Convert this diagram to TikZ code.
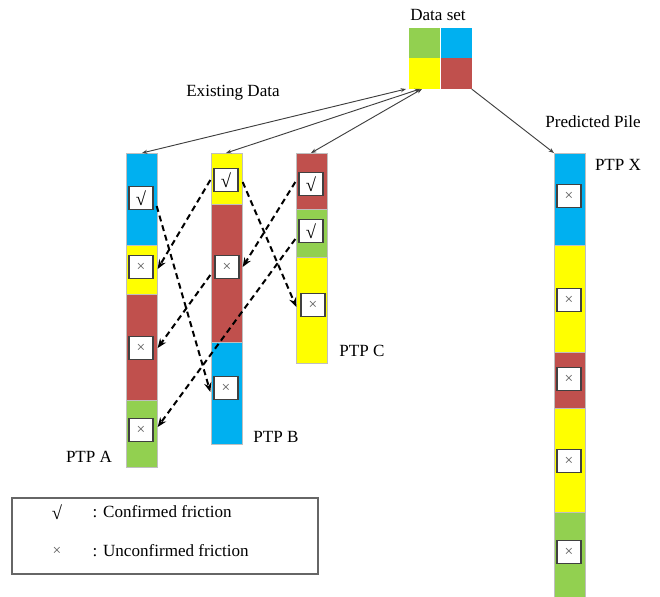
\documentclass[tikz,border=0pt]{standalone}
\usepackage{fontspec}
\setmainfont{Liberation Serif}
\usetikzlibrary{calc,arrows.meta}
\definecolor{pileblue}{RGB}{0,176,240}
\definecolor{pileyellow}{RGB}{255,255,0}
\definecolor{pilered}{RGB}{192,80,77}
\definecolor{pilegreen}{RGB}{146,208,80}

\newcommand\confmark{\fontsize{14}{14}\selectfont √}
\newcommand\unconfmark{\textcolor{black!65}{\fontsize{11.5}{11.5}\selectfont ×}}

\tikzset{
  seg/.style={draw=black!25, line width=0.4pt},
  testbox/.style={draw=black!75, fill=white, line width=1pt,
    minimum width=18pt, minimum height=17pt, inner sep=0pt},
  cell/.style={minimum width=23.25pt, minimum height=23pt, inner sep=0pt},
  link/.style={draw=black!75, line width=0.7pt,
    {Stealth[length=4pt,width=3pt]}-{Stealth[length=4pt,width=3pt]}},
  transfer/.style={line width=1.5pt, dash pattern=on 4.5pt off 3pt,
    -{Stealth[length=7pt,width=5.5pt]}},
}

\begin{document}
\begin{tikzpicture}[x=0.75pt, y=-0.75pt, font=\fontsize{12.8}{15}\selectfont]
  \useasboundingbox (0,0) rectangle (660,596);

  % === data set (four soil classes) ===
  \node[cell, fill=pilegreen]  (dgreen)  at (424.5,43.5) {};
  \node[cell, fill=pileblue]   (dblue)   at (456,43.5) {};
  \node[cell, fill=pileyellow] (dyellow) at (424.5,73.5) {};
  \node[cell, fill=pilered]    (dred)    at (456,73.5) {};
  \node (dlabel) at (438,15) {Data set};

  % === pile A ===
  \fill[pileblue, seg]   (126,153) rectangle (157,245);
  \fill[pileyellow, seg] (126,245) rectangle (157,294);
  \fill[pilered, seg]    (126,294) rectangle (157,400);
  \fill[pilegreen, seg]  (126,400) rectangle (157,467);
  \node[testbox] (A1) at (141,198) {\confmark};
  \node[testbox] (A2) at (141,267) {\unconfmark};
  \node[testbox] (A3) at (141,348) {\unconfmark};
  \node[testbox] (A4) at (141,430) {\unconfmark};
  \node (Alabel) at (89,457) {PTP A};

  % === pile B ===
  \fill[pileyellow, seg] (211,153) rectangle (242,204);
  \fill[pilered, seg]    (211,204) rectangle (242,342);
  \fill[pileblue, seg]   (211,342) rectangle (242,444);
  \node[testbox] (B1) at (226,180) {\confmark};
  \node[testbox] (B2) at (227,267) {\unconfmark};
  \node[testbox] (B3) at (226,388) {\unconfmark};
  \node (Blabel) at (276,437) {PTP B};

  % === pile C ===
  \fill[pilered, seg]    (296,153) rectangle (327,209);
  \fill[pilegreen, seg]  (296,209) rectangle (327,257);
  \fill[pileyellow, seg] (296,257) rectangle (327,363);
  \node[testbox] (C1) at (311,184) {\confmark};
  \node[testbox] (C2) at (311,231) {\confmark};
  \node[testbox] (C3) at (313,305) {\unconfmark};
  \node (Clabel) at (362,351) {PTP C};

  % === predicted pile X ===
  \fill[pileblue, seg]   (554,153) rectangle (585,245);
  \fill[pileyellow, seg] (554,245) rectangle (585,352);
  \fill[pilered, seg]    (554,352) rectangle (585,408);
  \fill[pileyellow, seg] (554,408) rectangle (585,512);
  \fill[pilegreen, seg]  (554,512) rectangle (585,600);
  \node[testbox] (X1) at (569,196) {\unconfmark};
  \node[testbox] (X2) at (569,300) {\unconfmark};
  \node[testbox] (X3) at (569,379) {\unconfmark};
  \node[testbox] (X4) at (569,461) {\unconfmark};
  \node[testbox] (X5) at (569,552) {\unconfmark};
  \node (Xlabel) at (618,165) {PTP X};

  % pile heads and their ends on the data set
  \coordinate (topA) at (142,153);
  \coordinate (topB) at (226,153);
  \coordinate (topC) at (311,153);
  \coordinate (topX) at (554,153);
  \coordinate (inA) at (406,89);
  \coordinate (inB) at (420,89);
  \coordinate (inC) at (422,89);

  % === existing data <-> data set ===
  \draw[link] (topA) -- (inA);
  \draw[link] (topB) -- (inB);
  \draw[link] (topC) -- (inC);
  \node (exlabel) at (233,93) {Existing Data};

  % === data set -> predicted pile ===
  \draw[draw=black!75, line width=0.7pt, -{Stealth[length=4pt,width=3pt]}]
    (dred.south east) -- (topX);
  \node (prlabel) at (593,122) {Predicted Pile};

  % === friction carried between layers of the same soil ===
  \draw[transfer] ($(A1.east)+(3,8)$) -- ($(B3.west)+(-3,4)$);
  \draw[transfer] ($(B1.west)+(-3,0)$) -- ($(A2.east)+(4,2)$);
  \draw[transfer] ($(B1.east)+(4,2)$) -- ($(C3.west)+(-4,2)$);
  \draw[transfer] ($(C1.west)+(-3,-2)$) -- ($(B2.east)+(3,0)$);
  \draw[transfer] ($(B2.west)+(-4,8)$) -- ($(A3.east)+(4,0)$);
  \draw[transfer] ($(C2.west)+(-3,8)$) -- ($(A4.east)+(4,-3)$);

  % === legend ===
  \draw[black!60, line width=1pt] (12,498) rectangle (318,574);
  \node (lgc) at (57,512) {\confmark};
  \node[anchor=west] (lgctext) at (88,512) {: Confirmed friction};
  \node (lgu) at (57,551) {\unconfmark};
  \node[anchor=west] (lgutext) at (88,551) {: Unconfirmed friction};
\end{tikzpicture}
\end{document}
